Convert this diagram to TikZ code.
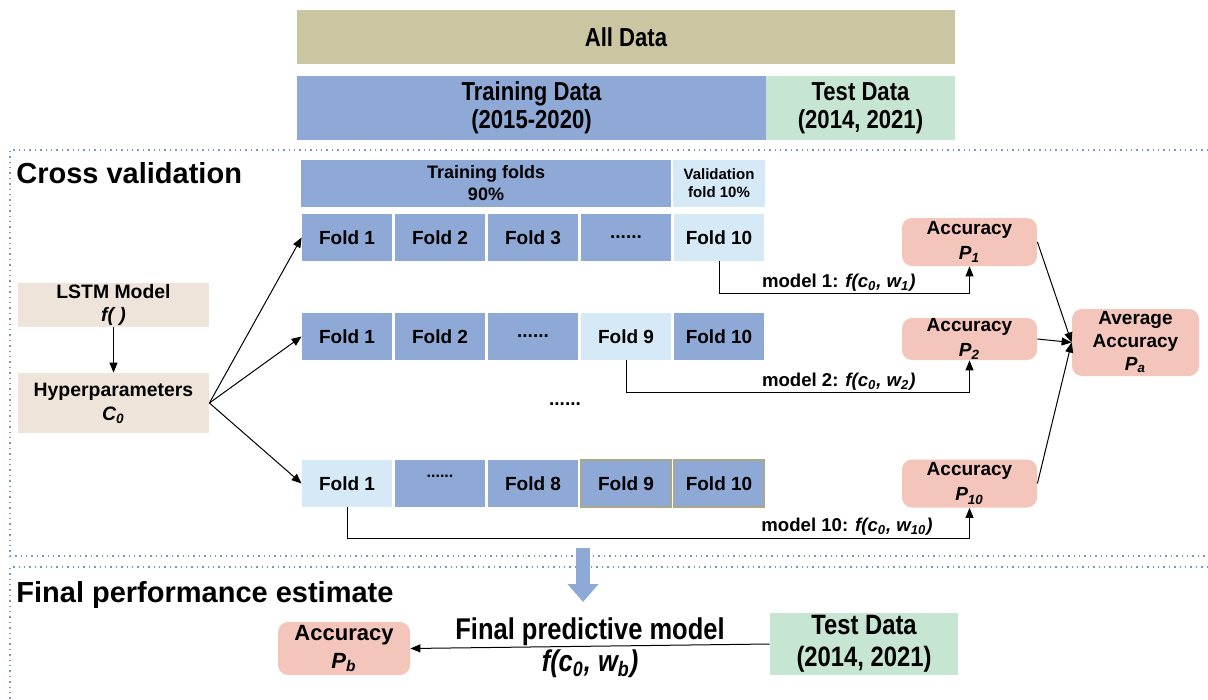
\documentclass[tikz,border=0pt]{standalone}
\usepackage{fontspec}
\setmainfont{Liberation Sans}
\newfontfamily\narrowfont[FakeStretch=0.85]{Liberation Sans}
\usepackage{xcolor}
\usepackage{tikz}
\usetikzlibrary{arrows.meta, positioning}
\definecolor{alldata}{HTML}{C9C6A1}
\definecolor{trainblue}{HTML}{8FA9D7}
\definecolor{valblue}{HTML}{D5E9F7}
\definecolor{testgreen}{HTML}{C6E6D3}
\definecolor{modelbeige}{HTML}{EFE4DA}
\definecolor{accpink}{HTML}{F3C5BB}
\definecolor{framecol}{HTML}{7D93C2}
\newcommand{\sbs}[1]{\textsubscript{#1}}

\begin{document}
\begin{tikzpicture}[
    x=0.5pt, y=-0.5pt,
    databox/.style={rectangle, fill=#1, minimum height=32pt, inner sep=0pt, align=center,
                    font=\narrowfont\bfseries\fontsize{13}{14}\selectfont},
    foldbox/.style={rectangle, fill=#1, minimum width=45pt, minimum height=23.5pt, inner sep=0pt,
                    font=\bfseries\fontsize{9.5}{11}\selectfont},
    modelbox/.style={rectangle, fill=modelbeige, minimum width=95.5pt, inner sep=0pt, align=center,
                    font=\bfseries\fontsize{9.7}{11.5}\selectfont},
    accbox/.style={rectangle, rounded corners=5pt, fill=accpink, minimum width=67.5pt, minimum height=24pt,
                    inner sep=0pt, align=center, font=\bfseries\fontsize{9.5}{12.5}\selectfont},
    conn/.style={-{Triangle[length=5pt, width=4pt]}, line width=0.5pt},
    framebox/.style={dotted, line width=0.7pt, draw=framecol},
    sectitle/.style={anchor=west, inner sep=0pt, font=\bfseries\fontsize{14.5}{17}\selectfont},
    modellabel/.style={anchor=east, inner sep=0pt, font=\bfseries\fontsize{9.3}{11}\selectfont},
]
\fill[white] (0,0) rectangle (1208,700);
\useasboundingbox (0,0) rectangle (1208,700);

% Data split
\node[databox=alldata, minimum width=329pt, minimum height=27pt] (all) at (626,37) {All Data};
\node[databox=trainblue, minimum width=234.5pt] (train) at (531.5,108) {Training Data\\(2015-2020)};
\node[databox=testgreen, minimum width=94.5pt] (test) at (860.5,108) {Test Data\\(2014, 2021)};

% Frames
\draw[framebox] (1208,150) -- (10,150) -- (10,556) -- (1208,556);
\draw[framebox] (1208,567) -- (10,567) -- (10,702);
\node[sectitle] (cvtitle) at (16,173) {Cross validation};
\node[sectitle] (fptitle) at (16,595) {Final performance estimate};

% Fold headers
\node[foldbox=trainblue, minimum width=185pt, align=center, font=\bfseries\fontsize{9}{11}\selectfont] (trfolds) at (486,183.5) {Training folds\\90\%};
\node[foldbox=valblue, minimum width=46pt, align=center, font=\bfseries\fontsize{7.5}{9}\selectfont] (valfold) at (719,183.5) {Validation\\fold 10\%};

% Split 1
\node[foldbox=trainblue] (f1a) at (347,237.5) {Fold 1};
\node[foldbox=trainblue] (f2a) at (440,237.5) {Fold 2};
\node[foldbox=trainblue] (f3a) at (533,237.5) {Fold 3};
\node[foldbox=trainblue] (dotsa) at (626,237.5) {......};
\node[foldbox=valblue] (f10a) at (719,237.5) {Fold 10};

% Split 2
\node[foldbox=trainblue] (f1b) at (347,336.5) {Fold 1};
\node[foldbox=trainblue] (f2b) at (440,336.5) {Fold 2};
\node[foldbox=trainblue] (dotsb) at (533,336.5) {......};
\node[foldbox=valblue] (f9b) at (626,336.5) {Fold 9};
\node[foldbox=trainblue] (f10b) at (719,336.5) {Fold 10};

\node[font=\bfseries\fontsize{9.5}{11}\selectfont] (dotsmid) at (565,404) {......};

% Split 10
\node[foldbox=valblue] (f1c) at (347,483.5) {Fold 1};
\node[foldbox=trainblue, font=\bfseries\fontsize{8}{10}\selectfont] (dotsc) at (440,483.5) {\raisebox{7pt}{......}};
\node[foldbox=trainblue] (f8c) at (533,483.5) {Fold 8};
\node[foldbox=trainblue, draw=alldata!85!black, line width=0.6pt] (f9c) at (626,483.5) {Fold 9};
\node[foldbox=trainblue, draw=alldata!85!black, line width=0.6pt] (f10c) at (719,483.5) {Fold 10};

% Model and hyperparameters
\node[modelbox, minimum height=22pt] (lstm) at (113.5,305) {LSTM Model\\\textit{f( )}};
\node[modelbox, minimum height=30pt, font=\bfseries\fontsize{9.7}{12}\selectfont] (hyper) at (113.5,403) {Hyperparameters\\\textit{C\sbs{0}}};
\draw[conn] (lstm.south) -- (hyper.north);
\draw[conn] (hyper.east) -- (f1a.west);
\draw[conn] (hyper.east) -- (f1b.west);
\draw[conn] (hyper.east) -- (f1c.west);

% Accuracies
\node[accbox] (acc1) at (969.5,242) {Accuracy\\\textit{P\sbs{1}}};
\node[accbox, minimum height=21pt] (acc2) at (969.5,339) {Accuracy\\\textit{P\sbs{2}}};
\node[accbox] (acc10) at (969.5,483.5) {Accuracy\\\textit{P\sbs{10}}};
\node[accbox, minimum width=63.5pt, minimum height=33.5pt, font=\bfseries\fontsize{9.5}{11.5}\selectfont] (avg) at (1135.5,342.5) {Average\\Accuracy\\\textit{P\sbs{a}}};

\draw[conn] (f10a.south) -- ++(0,32) -| (acc1.south);
\draw[conn] (f9b.south) -- ++(0,32) -| (acc2.south);
\draw[conn] (f1c.south) -- ++(0,31) -| (acc10.south);
\node[modellabel] (lab1) at (916,283) {model 1: \textit{f(c\sbs{0}, w\sbs{1})}};
\node[modellabel] (lab2) at (916,382) {model 2: \textit{f(c\sbs{0}, w\sbs{2})}};
\node[modellabel] (lab10) at (933,527) {model 10: \textit{f(c\sbs{0}, w\sbs{10})}};

\draw[conn] (acc1.east) -- (avg.west);
\draw[conn] (acc2.east) -- (avg.west);
\draw[conn] (acc10.east) -- (avg.west);

% Final estimate
\coordinate (cvbot) at (583,548);
\coordinate (fptop) at (583,602);
\draw[line width=7pt, trainblue, -{Triangle[length=9pt, width=15pt]}] (cvbot) -- (fptop);

\node[databox=testgreen, minimum width=94pt, minimum height=31pt, font=\narrowfont\bfseries\fontsize{14}{16}\selectfont] (testb) at (864,644) {Test Data\\(2014, 2021)};
\node[accbox, minimum width=66pt, minimum height=26.5pt, font=\bfseries\fontsize{11}{14}\selectfont] (accb) at (344,648.5) {Accuracy\\\textit{P\sbs{b}}};
\draw[conn] (testb.west) -- node[above, inner sep=0pt, font=\narrowfont\bfseries\fontsize{15}{17}\selectfont] {Final predictive model}
    node[below=1.5pt, inner sep=0pt, font=\narrowfont\bfseries\fontsize{15}{17}\selectfont] {\textit{f(c\sbs{0}, w\sbs{b})}} (accb.east);

\end{tikzpicture}
\end{document}
